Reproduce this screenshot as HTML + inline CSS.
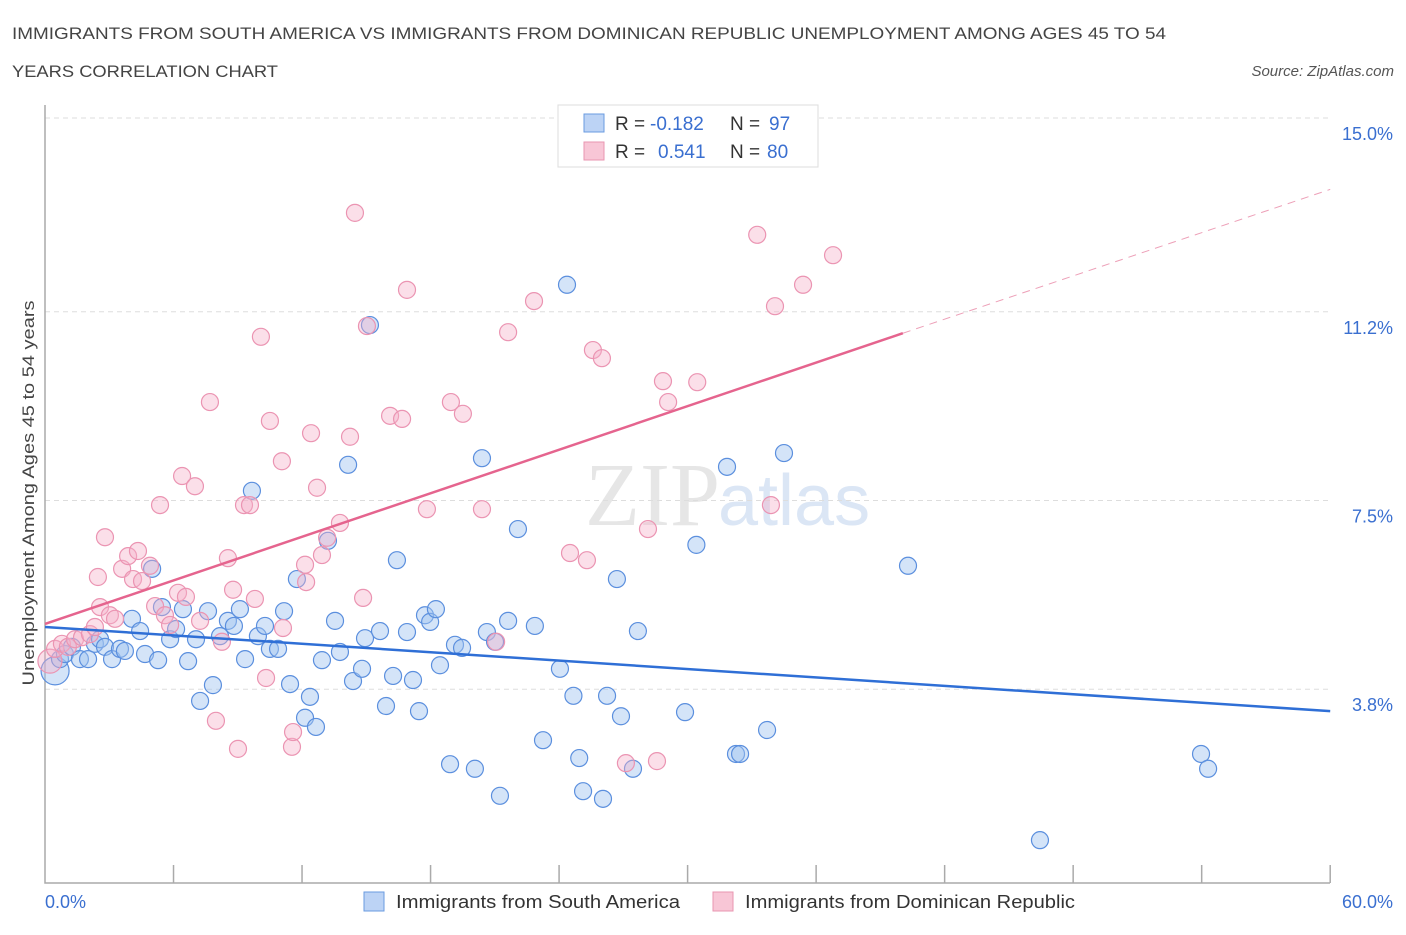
<!DOCTYPE html>
<html><head><meta charset="utf-8"><style>
body{margin:0;background:#fff;font-family:"Liberation Sans",sans-serif;}
</style></head><body>
<svg width="1406" height="930" xmlns="http://www.w3.org/2000/svg" style="font-family:'Liberation Sans',sans-serif">
<text x="12" y="39" font-size="17" fill="#444" textLength="1154" lengthAdjust="spacingAndGlyphs">IMMIGRANTS FROM SOUTH AMERICA VS IMMIGRANTS FROM DOMINICAN REPUBLIC UNEMPLOYMENT AMONG AGES 45 TO 54</text>
<text x="12" y="77" font-size="17" fill="#444" textLength="266" lengthAdjust="spacingAndGlyphs">YEARS CORRELATION CHART</text>
<text x="1394" y="76" font-size="15" fill="#555" font-style="italic" text-anchor="end">Source: ZipAtlas.com</text>
<text x="720" y="525" font-size="90" fill="#e6e6e6" text-anchor="end" font-family="Liberation Serif">ZIP</text>
<text x="718" y="525" font-size="72" fill="#dbe6f5">atlas</text>
<g id="grid"></g>
<g id="axes"></g>
<g id="marks"></g>
<text transform="translate(34,493) rotate(-90)" font-size="17" fill="#444" text-anchor="middle" textLength="385" lengthAdjust="spacingAndGlyphs">Unemployment Among Ages 45 to 54 years</text>
<g>
<rect x="558" y="105" width="260" height="62" fill="#fff" stroke="#ddd"/>
<rect x="584" y="114" width="20" height="18" fill="#bcd3f5" stroke="#6a9be0"/>
<rect x="584" y="142" width="20" height="18" fill="#f8c6d6" stroke="#e896b0"/>
<text x="615" y="130" font-size="19" fill="#333">R =</text>
<text x="650" y="130" font-size="19" fill="#3a6fd0">-0.182</text>
<text x="730" y="130" font-size="19" fill="#333">N =</text>
<text x="769" y="130" font-size="19" fill="#3a6fd0">97</text>
<text x="615" y="158" font-size="19" fill="#333">R =</text>
<text x="658" y="158" font-size="19" fill="#3a6fd0">0.541</text>
<text x="730" y="158" font-size="19" fill="#333">N =</text>
<text x="767" y="158" font-size="19" fill="#3a6fd0">80</text>
</g>
<g>
<rect x="364" y="892" width="20" height="19" fill="#bcd3f5" stroke="#6a9be0"/>
<text x="396" y="908" font-size="18" fill="#333" textLength="284" lengthAdjust="spacingAndGlyphs">Immigrants from South America</text>
<rect x="713" y="892" width="20" height="19" fill="#f8c6d6" stroke="#e896b0"/>
<text x="745" y="908" font-size="18" fill="#333" textLength="330" lengthAdjust="spacingAndGlyphs">Immigrants from Dominican Republic</text>
</g>
</svg>
<script>
const yTicks=[15.0,11.2,7.5,3.8];
const yTickLabels=["15.0%","11.2%","7.5%","3.8%"];
const blueX=[0.47,0.7,0.93,1.26,1.63,2.01,2.33,2.57,2.8,3.13,3.5,3.73,4.06,4.44,4.67,5.0,5.28,5.46,5.84,6.12,6.44,6.68,7.05,7.24,7.61,7.84,8.17,8.54,8.82,9.1,9.34,9.66,9.94,10.27,10.5,10.88,11.16,11.44,11.76,12.14,12.37,12.65,12.93,13.21,13.54,13.77,14.15,14.38,14.8,14.94,15.17,15.64,15.92,16.25,16.43,16.9,17.18,17.46,17.74,17.98,18.25,18.44,18.91,19.14,19.47,20.07,20.4,20.63,21.01,21.24,21.62,22.08,22.87,23.25,24.04,24.37,24.67,24.94,25.12,26.05,26.24,26.7,26.89,27.45,27.68,30.41,29.88,31.84,32.26,32.45,33.71,34.5,40.29,46.45,53.97,54.3];
const blueY=[4.16,4.39,4.49,4.63,4.39,4.39,4.69,4.78,4.63,4.39,4.59,4.55,5.18,4.94,4.49,6.16,4.37,5.41,4.78,4.98,5.37,4.35,4.78,3.57,5.33,3.88,4.84,5.14,5.04,5.37,4.39,7.69,4.84,5.04,4.59,4.59,5.33,3.9,5.96,3.24,3.65,3.06,4.37,6.71,5.14,4.53,8.2,3.96,4.2,4.8,10.94,4.94,3.47,4.06,6.33,4.92,3.98,3.37,5.25,5.12,5.37,4.27,2.33,4.67,4.61,2.24,8.33,4.92,4.73,1.71,5.14,6.94,5.04,2.8,4.2,11.73,3.67,2.45,1.8,1.65,3.67,5.96,3.27,2.24,4.94,6.63,3.35,8.16,2.53,2.53,3.0,8.43,6.22,0.84,2.53,2.24];
const pinkX=[0.23,0.47,0.79,1.07,1.4,1.73,2.1,2.33,2.57,2.8,2.47,3.03,3.27,3.6,3.88,4.11,4.34,4.53,4.9,5.14,5.37,5.6,5.84,6.21,6.4,6.58,7.0,7.24,7.7,7.98,8.26,8.54,8.78,9.01,9.29,9.57,9.8,10.08,10.32,10.5,11.06,11.11,11.53,11.58,12.14,12.19,12.42,12.7,12.93,13.17,13.77,14.24,14.47,14.85,15.03,16.11,16.67,16.9,17.83,18.95,19.51,20.4,21.06,21.62,22.83,24.51,25.3,25.58,26.0,27.12,28.15,28.57,28.85,29.09,30.45,33.25,33.89,34.08,35.39,36.79];
const pinkY=[4.35,4.59,4.69,4.63,4.78,4.82,4.88,5.02,5.41,6.78,6.0,5.25,5.18,6.16,6.41,5.96,6.51,5.92,6.22,5.43,7.41,5.25,5.06,5.69,7.98,5.61,7.78,5.14,9.43,3.18,4.73,6.37,5.75,2.63,7.41,7.41,5.57,10.71,4.02,9.06,8.27,5.0,2.67,2.96,6.24,5.9,8.82,7.75,6.43,6.77,7.06,8.75,13.14,5.59,10.92,9.16,9.1,11.63,7.33,9.43,9.2,7.33,4.73,10.8,11.41,6.47,6.33,10.45,10.29,2.35,6.94,2.39,9.84,9.43,9.82,12.71,7.41,11.31,11.73,12.31];
const blueTrend=[0,5.02,60,3.37];
const pinkTrend=[0,5.08,40.05,10.78,60,13.6];
const NS="http://www.w3.org/2000/svg";
const X=v=>45+v*21.42, Y=v=>883-v*51;
function mk(t,a,p){const e=document.createElementNS(NS,t);for(const k in a)e.setAttribute(k,a[k]);document.getElementById(p).appendChild(e);return e;}
yTicks.forEach((t,i)=>{
 const g=mk('line',{x1:45,x2:1330,y1:Y(t),y2:Y(t),stroke:'#ddd','stroke-dasharray':'5,4'},'grid');
 
 
 const l=mk('text',{x:1393,y:Y(t)+22,'font-size':18,fill:'#3a6fd0','text-anchor':'end'},'axes');
 l.textContent=yTickLabels[i];
 
 
});
const ax=mk('path',{d:'M45,105V883H1330',fill:'none',stroke:'#aaa','stroke-width':1.5},'axes');


for(let i=1;i<=10;i++){const t=mk('line',{x1:X(i*6),x2:X(i*6),y1:865,y2:883,stroke:'#aaa','stroke-width':1.5},'axes');
 
 }
[['0.0%',45,'start'],['60.0%',1393,'end']].forEach(a=>{const t=mk('text',{x:a[1],y:908,'font-size':18,fill:'#3a6fd0','text-anchor':a[2]},'axes');t.textContent=a[0];
 
 });
blueX.forEach((x,i)=>{const c=mk('circle',{cx:X(x),cy:Y(blueY[i]),r:i==0?14:8.5,fill:'rgba(160,195,240,0.45)',stroke:'#5b8fde','stroke-width':1.2},'marks');
 
 });
pinkX.forEach((x,i)=>{const c=mk('circle',{cx:X(x),cy:Y(pinkY[i]),r:i==0?12:8.5,fill:'rgba(245,175,200,0.4)',stroke:'#eb94b2','stroke-width':1.2},'marks');
 
 });
let l=mk('line',{x1:X(blueTrend[0]),y1:Y(blueTrend[1]),x2:X(blueTrend[2]),y2:Y(blueTrend[3]),stroke:'#2f6fd6','stroke-width':2.5},'marks');


l=mk('line',{x1:X(pinkTrend[0]),y1:Y(pinkTrend[1]),x2:X(pinkTrend[2]),y2:Y(pinkTrend[3]),stroke:'#e5648e','stroke-width':2.5},'marks');


l=mk('line',{x1:X(pinkTrend[2]),y1:Y(pinkTrend[3]),x2:X(pinkTrend[4]),y2:Y(pinkTrend[5]),stroke:'#eda0b8','stroke-width':1,'stroke-dasharray':'8,6'},'marks');


</script>
</body></html>
